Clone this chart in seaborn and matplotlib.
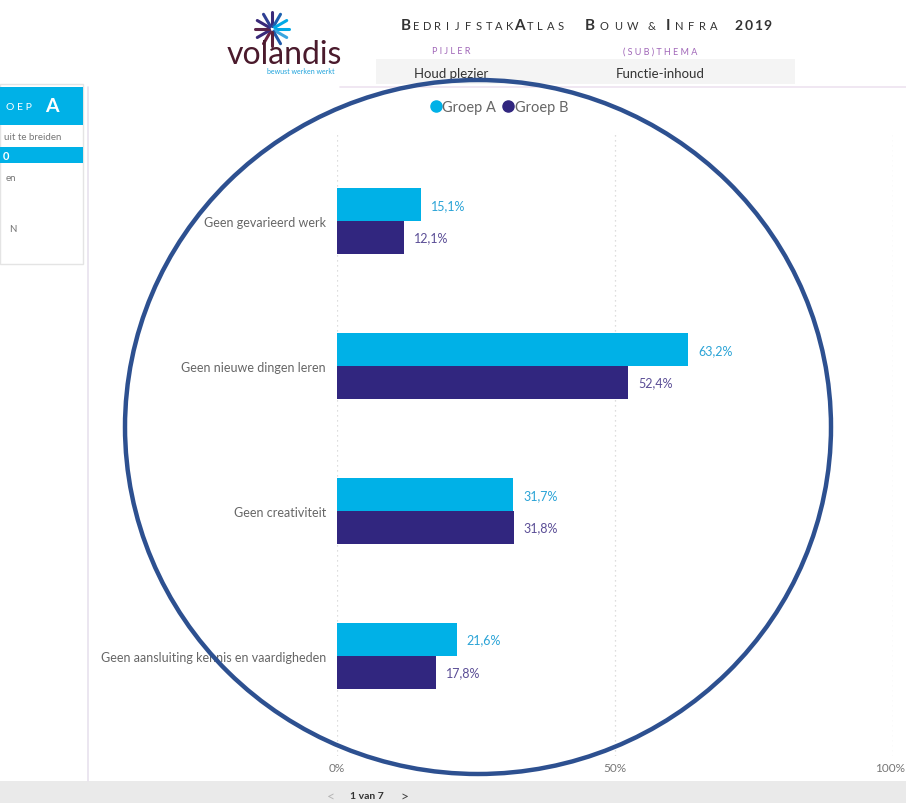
import numpy as np
import pandas as pd
import matplotlib
matplotlib.use("Agg")
import matplotlib.pyplot as plt
import matplotlib.transforms as mtransforms
import seaborn as sns
from matplotlib.patches import Ellipse, Rectangle
from matplotlib.lines import Line2D

# ---------------- data ----------------
categories = ["Geen gevarieerd werk", "Geen nieuwe dingen leren",
              "Geen creativiteit", "Geen aansluiting kennis en vaardigheden"]
groep_a = [15.1, 63.2, 31.7, 21.6]
groep_b = [12.1, 52.4, 31.8, 17.8]
series_names = ["Groep A", "Groep B"]
x_ticks = [0, 50, 100]
x_tick_labels = ["0%", "50%", "100%"]

COL_A = "#00B1E7"
COL_B = "#31267F"
LAB_A = "#2AA3D6"
LAB_B = "#5B4E96"

df = pd.DataFrame({
    "categorie": categories * 2,
    "waarde": groep_a + groep_b,
    "groep": [series_names[0]] * len(categories) + [series_names[1]] * len(categories),
})

sns.set_theme(style="white")
plt.rcParams["font.family"] = ["Lato", "DejaVu Sans"]

W, H = 906, 804
fig = plt.figure(figsize=(W / 100, H / 100), dpi=100)
fx = lambda x: x / W
fy = lambda y: 1 - y / H

ax_l, ax_r, ax_t, ax_b = 337, 893, 135, 757
ax = fig.add_axes([fx(ax_l), fy(ax_b), fx(ax_r) - fx(ax_l), fy(ax_t) - fy(ax_b)])

sns.barplot(data=df, y="categorie", x="waarde", hue="groep", orient="h",
            palette=[COL_A, COL_B], width=0.45, gap=0, ax=ax, legend=False,
            saturation=1, linewidth=0)
ax.set_xlim(0, 100)
ax.set_ylim(3.69, -0.6)
for s in ax.spines.values():
    s.set_visible(False)
ax.set_xlabel("")
ax.set_ylabel("")
ax.set_xticks(x_ticks)
ax.set_xticklabels(x_tick_labels, color="#777777", fontsize=8.5)
ax.tick_params(axis="x", length=0, pad=4)
ax.tick_params(axis="y", length=0, pad=8, labelsize=9, labelcolor="#666666")
# last tick label sits against the right page edge
last = ax.get_xticklabels()[-1]
last.set_horizontalalignment("right")
last.set_transform(last.get_transform() + mtransforms.ScaledTranslation(0.12, 0, fig.dpi_scale_trans))
for xv in x_ticks:
    ax.axvline(xv, color="#d2d2d2", lw=0.9, ls=(0, (1, 3)), zorder=0)

fmt = lambda v: f"{v:.1f}".replace(".", ",") + "%"
ax.bar_label(ax.containers[0], labels=[fmt(v) for v in groep_a], padding=7,
             color=LAB_A, fontsize=9)
ax.bar_label(ax.containers[1], labels=[fmt(v) for v in groep_b], padding=7,
             color=LAB_B, fontsize=9)

# legend
handles = [Line2D([0], [0], marker="o", ls="", markersize=8, color=c)
           for c in (COL_A, COL_B)]
leg = fig.legend(handles, series_names, loc="center", ncol=2,
                 bbox_to_anchor=(fx(499), fy(108)), frameon=False,
                 handletextpad=0.05, columnspacing=0.4, handlelength=0.8,
                 fontsize=10.5)
for t in leg.get_texts():
    t.set_color("#666666")

# ---------------- page decorations ----------------
fig.add_artist(Line2D([fx(340), fx(906)], [fy(88), fy(88)], color="#eee3f0", lw=1.2))
fig.add_artist(Line2D([fx(88), fx(88)], [fy(88), fy(782)], color="#e8e2ee", lw=1.2))

# left panel
fig.add_artist(Rectangle((fx(0), fy(265)), fx(83), fy(85) - fy(265),
                         facecolor="white", edgecolor="#e4e4e4", lw=1))
fig.add_artist(Rectangle((fx(0), fy(126)), fx(83), fy(88) - fy(126),
                         facecolor=COL_A, edgecolor="none"))
fig.text(fx(6), fy(108), "O E P", color="white", fontsize=7.5, va="center")
fig.text(fx(45), fy(107), "A", color="white", fontsize=14, va="center", fontweight="bold")
fig.text(fx(4), fy(137), "uit te breiden", color="#777777", fontsize=7, va="center")
fig.add_artist(Rectangle((fx(0), fy(164)), fx(83), fy(148) - fy(164),
                         facecolor=COL_A, edgecolor="none"))
fig.text(fx(3), fy(156), "0", color="white", fontsize=8, va="center", fontweight="bold")
fig.text(fx(6), fy(179), "en", color="#777777", fontsize=7, va="center")
fig.text(fx(9), fy(230), "N", color="#777777", fontsize=7, va="center")

# header grey box
fig.add_artist(Rectangle((fx(376), fy(85)), fx(795) - fx(376), fy(60) - fy(85),
                         facecolor="#f4f4f4", edgecolor="none"))
fig.text(fx(451), fy(74), "Houd plezier", color="#333333", fontsize=9.5, ha="center", va="center")
fig.text(fx(660), fy(74), "Functie-inhoud", color="#333333", fontsize=9.5, ha="center", va="center")
fig.text(fx(451), fy(52), "P I J L E R", color="#a066b8", fontsize=6.5, ha="center", va="center")
fig.text(fx(660), fy(52), "( S U B ) T H E M A", color="#a066b8", fontsize=6.5, ha="center", va="center")

# title in spaced small caps
def spaced(word, x0, x1, y, big_idx, big=11, small=8):
    n = len(word)
    pitch = (x1 - x0) / n
    for i, ch in enumerate(word):
        fs = big if i in big_idx else small
        fig.text(fx(x0 + i * pitch + pitch / 2), fy(y), ch, ha="center", va="baseline",
                 fontsize=fs, color="#333333", fontweight="bold" if i in big_idx else "normal")

spaced("BEDRIJFSTAKATLAS", 401, 566, 30, {0, 11})
spaced("BOUW", 582, 640, 30, {0})
spaced("&", 646, 657, 30, set())
spaced("INFRA", 662, 720, 30, {0})
spaced("2019", 734, 772, 30, {0, 1, 2, 3}, big=10)

# logo
cx, cy = 272, 30
spokes = [(90, "#3a2a7a"), (60, "#1c5fae"), (30, "#00a9e6"), (0, "#00a9e6"),
          (-30, "#3aa6e0"), (-60, "#1f58a8"), (-90, "#5a1f3a"), (-120, "#6a2243"),
          (-150, "#3a2a7a"), (180, "#5a2448"), (150, "#3a2a7a"), (120, "#2f3f93")]
for ang, c in spokes:
    a = np.deg2rad(ang)
    fig.add_artist(Line2D([fx(cx + 3 * np.cos(a)), fx(cx + 17 * np.cos(a))],
                          [fy(cy - 3 * np.sin(a)), fy(cy - 17 * np.sin(a))],
                          color=c, lw=2.2, solid_capstyle="round"))
fig.text(fx(284), fy(55), "volandis", color="#4a1a2c", fontsize=23, ha="center", va="center")
fig.text(fx(301), fy(72), "bewust werken werkt", color="#1fa3dc", fontsize=5, ha="center", va="center")

# bottom pager bar
fig.add_artist(Rectangle((0, 0), 1, fy(782), facecolor="#eaeaea", edgecolor="none"))
fig.text(fx(331), fy(797), "<", color="#b5b5b5", fontsize=10, ha="center", va="center")
fig.text(fx(367), fy(797), "1 van 7", color="#333333", fontsize=7.5, ha="center", va="center",
         fontweight="bold")
fig.text(fx(404), fy(797), ">", color="#444444", fontsize=10, ha="center", va="center")

# big ellipse annotation
fig.add_artist(Ellipse((fx(478), fy(428)), fx(706), 694 / H, fill=False,
                       edgecolor="#2d5090", lw=3.2, zorder=20))

fig.savefig("out.png", dpi=100)
